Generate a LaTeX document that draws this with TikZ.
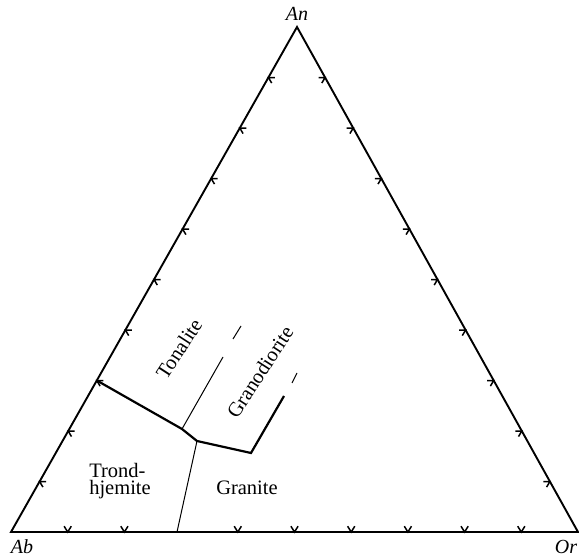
\documentclass[tikz,border=0pt]{standalone}
\usepackage{fontspec}
\setmainfont{Liberation Serif}
\usetikzlibrary{calc}
\begin{document}
\begin{tikzpicture}[x=1pt,y=-1pt,
  side/.style={line width=1.9pt, line join=miter},
  bound/.style={line width=2.2pt, line join=miter},
  thinline/.style={line width=1pt},
  tickmark/.style={line width=1.5pt},
  lab/.style={font=\fontsize{20.5}{17}\selectfont, inner sep=0pt},
  vert/.style={font=\fontsize{20}{20}\selectfont\itshape, inner sep=0pt}]
\useasboundingbox (0,0) rectangle (579,559);
\coordinate (Ab) at (11,532);
\coordinate (Or) at (578,532);
\coordinate (An) at (297,27);
\draw[side] (Ab) -- (Or) -- (An) -- cycle;
% ticks on the two sides
\foreach \k in {1,...,9} {
  \draw[tickmark] ($(Ab)!\k/10!(An)$) ++(6.5,0) -- ++(-6.5,0) -- ++(3.3,5.6);
  \draw[tickmark] ($(Or)!\k/10!(An)$) ++(-6.5,0) -- ++(6.5,0) -- ++(-3.3,5.6);
}
% ticks on the base
\foreach \k in {1,2,4,5,6,7,8,9} {
  \draw[tickmark] ($(Ab)!\k/10!(Or)$) ++(-3.6,-5.8) -- ++(3.6,5.8) -- ++(3.6,-5.8);
}
% field boundaries
\coordinate (p1) at ($(Ab)!0.3!(An)$);
\coordinate (p2) at (182,429);
\coordinate (p3) at (197,441);
\coordinate (p4) at (251,453);
\coordinate (p5) at (284,396);
\draw[bound] (p1) -- (p2) -- (p3) -- (p4) -- (p5);
\coordinate (q1) at (223,357);
\draw[thinline] (p2) -- (q1);
\coordinate (q2) at (177,532);
\draw[thinline] (p3) -- (q2);
\coordinate (d1a) at (233,339);
\coordinate (d1b) at (241,326);
\draw[thinline] (d1a) -- (d1b);
\coordinate (d2a) at (292,383);
\coordinate (d2b) at (297,373);
\draw[thinline] (d2a) -- (d2b);
% labels
\node[lab, rotate=57] (ton) at (179,349) {Tonalite};
\node[lab, rotate=57] (gran) at (260,372) {Granodiorite};
\node[lab, align=left] (tro) at (120,481) {Trond-\\hjemite};
\node[lab, anchor=base] (gra) at (247,494) {Granite};
\node[vert, anchor=base] (lab-ab) at (22,553) {Ab};
\node[vert, anchor=base] (lab-an) at (297,21) {An};
\node[vert, anchor=base] (lab-or) at (566,553) {Or};
\end{tikzpicture}
\end{document}
